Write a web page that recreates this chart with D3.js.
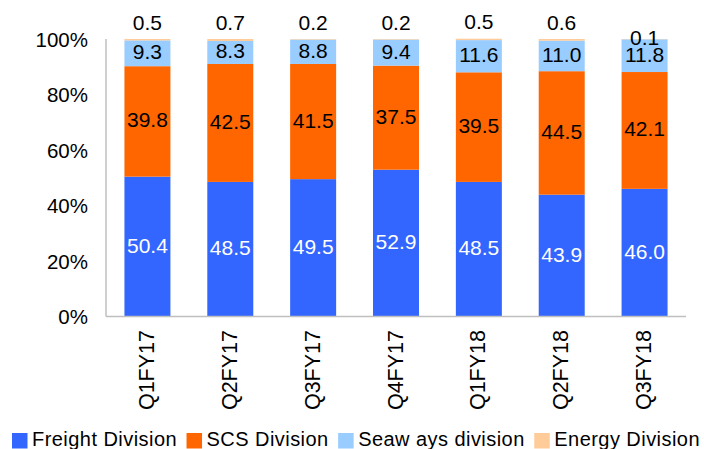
<!DOCTYPE html>
<html>
<head>
<meta charset="utf-8">
<script src="https://cdn.jsdelivr.net/npm/d3@7"></script>
<style>
  html, body { margin: 0; padding: 0; background: #fff; }
  svg { display: block; font-family: "Liberation Sans", Arial, sans-serif; }
</style>
</head>
<body>
<svg id="chart" width="704" height="449"></svg>
<script>
// Revenue mix by division, share of total (%)
const quarters = ["Q1FY17", "Q2FY17", "Q3FY17", "Q4FY17", "Q1FY18", "Q2FY18", "Q3FY18"];
const freight  = [50.4, 48.5, 49.5, 52.9, 48.5, 43.9, 46.0];
const scs      = [39.8, 42.5, 41.5, 37.5, 39.5, 44.5, 42.1];
const seaways  = [9.3, 8.3, 8.8, 9.4, 11.6, 11.0, 11.8];
const energy   = [0.5, 0.7, 0.2, 0.2, 0.5, 0.6, 0.1];
const yTicks   = [0, 20, 40, 60, 80, 100];

const seriesNames = ["Freight Division", "SCS Division", "Seaw ays division", "Energy Division"];
const seriesKeys  = ["freight", "scs", "seaways", "energy"];
const colors      = ["#3366FF", "#FF6600", "#99CCFF", "#FFCC99"];
const labelColors = ["#ffffff", "#000000", "#000000", "#000000"];

// Energy labels normally sit above the column; this one stays in its segment
const energyLabelInside = new Set(["Q3FY18"]);

const rows = quarters.map((q, i) => ({
  quarter: q, freight: freight[i], scs: scs[i], seaways: seaways[i], energy: energy[i]
}));

const svg = d3.select("#chart");
const plotLeft = 106, plotRight = 686, plotTop = 39, plotBottom = 316.5;

const x = d3.scaleBand().domain(quarters).range([plotLeft, plotRight])
  .paddingInner(0.445).paddingOuter(0.2225);
const y = d3.scaleLinear().domain([0, 100]).range([plotBottom, plotTop]);

const stacked = d3.stack().keys(seriesKeys)(rows);

// stacked columns
const layers = svg.append("g").selectAll("g").data(stacked).join("g")
  .attr("fill", (d, i) => colors[i]);
layers.selectAll("rect").data(d => d).join("rect")
  .attr("x", d => x(d.data.quarter))
  .attr("width", x.bandwidth())
  .attr("y", d => y(d[1]))
  .attr("height", d => y(d[0]) - y(d[1]));

// axis lines
svg.append("line").attr("x1", plotLeft).attr("x2", plotLeft).attr("y1", plotTop).attr("y2", plotBottom)
  .attr("stroke", "#bfbfbf").attr("stroke-width", 1.5);
svg.append("line").attr("x1", plotLeft).attr("x2", plotRight).attr("y1", plotBottom).attr("y2", plotBottom)
  .attr("stroke", "#bfbfbf").attr("stroke-width", 1.5);

// y tick labels
svg.append("g").selectAll("text").data(yTicks).join("text")
  .attr("x", 88).attr("y", d => y(d))
  .attr("text-anchor", "end").attr("dominant-baseline", "central")
  .attr("font-size", "20.5px").attr("fill", "#000")
  .text(d => d + "%");

// x category labels, rotated
svg.append("g").selectAll("text").data(quarters).join("text")
  .attr("transform", d => `translate(${x(d) + x.bandwidth() / 2 + 6.5},330) rotate(-90)`)
  .attr("text-anchor", "end")
  .attr("font-size", "21.5px").attr("fill", "#000")
  .text(d => d);

// value labels
stacked.forEach((layer, si) => {
  svg.append("g").selectAll("text").data(layer).join("text")
    .attr("x", d => x(d.data.quarter) + x.bandwidth() / 2)
    .attr("y", d => {
      if (layer.key === "energy" && !energyLabelInside.has(d.data.quarter)) {
        return y(d[1]) - 17;
      }
      return (y(d[0]) + y(d[1])) / 2 - 1.5;
    })
    .attr("text-anchor", "middle").attr("dominant-baseline", "central")
    .attr("font-size", "21px").attr("fill", labelColors[si])
    .text(d => (d[1] - d[0]).toFixed(1));
});

// legend
const legend = svg.append("g");
let lx = 12;
seriesNames.forEach((name, i) => {
  legend.append("rect").attr("x", lx).attr("y", 433).attr("width", 15.5).attr("height", 15.5)
    .attr("fill", colors[i]);
  const t = legend.append("text").attr("x", lx + 20).attr("y", 445.5)
    .attr("font-size", "20px").attr("letter-spacing", "0.45px").attr("fill", "#000")
    .text(name);
  lx += 20 + t.node().getComputedTextLength() + 9.5;
});
</script>
</body>
</html>
